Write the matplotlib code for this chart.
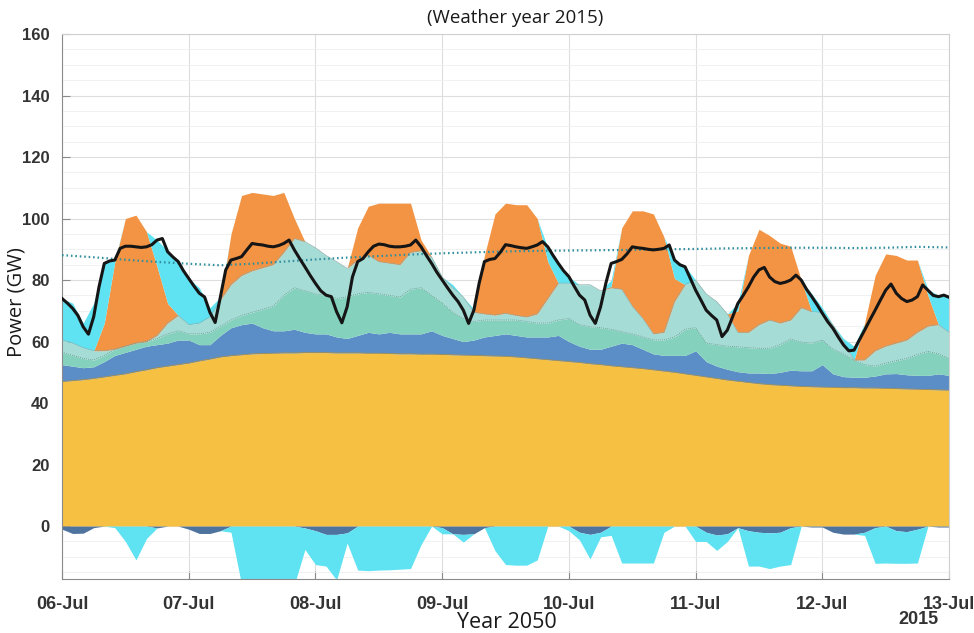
import numpy as np
import matplotlib.pyplot as plt
from matplotlib.ticker import MultipleLocator

# time axis (hours from 06-Jul 00:00)
hours_2h = np.arange(0, 169, 2)
hours_1h = np.arange(0, 169)
hours_6h = np.arange(0, 169, 6)

day_labels = ["06-Jul", "07-Jul", "08-Jul", "09-Jul", "10-Jul", "11-Jul", "12-Jul", "13-Jul"]

# stacked levels (GW), every 2 h
base_top = [47.0, 47.3, 47.6, 48.0, 48.5, 49.0, 49.5, 50.2, 50.8, 51.5,
            52.0, 52.5, 53.0, 53.7, 54.3, 55.0, 55.4, 55.7, 56.0, 56.1,
            56.2, 56.3, 56.3, 56.4, 56.4, 56.4, 56.3, 56.3, 56.3, 56.2,
            56.2, 56.1, 56.0, 56.0, 55.9, 55.9, 55.8, 55.7, 55.6, 55.5,
            55.4, 55.3, 55.2, 55.0, 54.7, 54.4, 54.1, 53.8, 53.5, 53.2,
            52.8, 52.5, 52.1, 51.8, 51.5, 51.2, 50.8, 50.4, 50.0, 49.5,
            49.0, 48.5, 48.0, 47.5, 47.1, 46.7, 46.3, 46.0, 45.8, 45.6,
            45.4, 45.3, 45.2, 45.1, 45.0, 45.0, 44.9, 44.9, 44.8, 44.7,
            44.6, 44.5, 44.4, 44.3, 44.2]

hydro_top = [52.5, 52.0, 51.5, 51.8, 53.5, 55.5, 56.5, 57.5, 58.5, 59.0,
             59.5, 60.5, 60.5, 59.0, 59.0, 62.0, 64.5, 65.5, 66.0, 64.5,
             63.5, 63.5, 64.0, 63.0, 62.5, 62.5, 61.5, 61.0, 62.0, 63.0,
             62.5, 63.0, 62.5, 62.5, 62.5, 63.5, 62.0, 61.0, 60.0, 60.5,
             61.5, 62.0, 62.5, 62.0, 61.5, 61.5, 61.5, 62.0, 60.0, 58.5,
             57.5, 57.5, 58.5, 59.5, 59.0, 57.5, 56.0, 55.5, 55.5, 55.5,
             57.0, 53.5, 52.0, 51.0, 50.2, 49.8, 49.8, 49.6, 50.0, 50.7,
             50.5, 50.5, 52.5, 49.5, 48.6, 48.4, 48.4, 48.8, 49.5, 49.6,
             49.2, 49.0, 49.0, 49.5, 49.0]

green_top = [56.5, 55.5, 54.5, 54.0, 55.5, 57.5, 58.5, 59.5, 60.0, 61.0,
             62.5, 63.5, 62.5, 62.5, 63.0, 65.0, 67.0, 68.5, 69.5, 70.5,
             71.5, 75.0, 77.5, 76.5, 75.5, 75.0, 74.0, 74.5, 75.5, 76.0,
             75.5, 75.0, 74.5, 77.0, 77.5, 75.0, 72.5, 69.5, 67.5, 66.5,
             67.0, 67.0, 67.0, 67.0, 66.5, 66.0, 66.0, 67.0, 67.5, 65.5,
             64.8, 64.5, 64.0, 63.2, 62.5, 61.5, 60.5, 60.5, 61.5, 64.0,
             64.5, 59.5, 59.0, 58.5, 58.3, 58.0, 57.8, 57.8, 59.0, 60.8,
             59.8, 59.5, 60.5, 57.5, 56.0, 54.0, 52.5, 52.0, 53.0, 53.8,
             54.5, 55.8, 56.8, 56.0, 54.5]

wind_top = [60.5, 59.5, 58.0, 57.0, 57.0, 57.5, 58.5, 59.5, 60.0, 62.0,
            66.0, 68.5, 65.5, 66.0, 68.0, 73.5, 78.5, 81.5, 83.0, 84.0,
            85.0, 89.0, 93.5, 92.5, 90.5, 88.0, 86.0, 83.8, 86.5, 88.0,
            86.0, 85.5, 85.0, 89.0, 89.5, 87.5, 81.0, 77.5, 74.5, 69.5,
            69.0, 68.6, 69.2, 68.5, 68.0, 69.0, 74.0, 79.0, 79.0, 78.5,
            78.5, 76.5, 77.5, 77.0, 71.5, 67.5, 62.5, 63.0, 73.0, 78.5,
            80.0, 75.5, 73.0, 69.0, 63.0, 63.0, 65.5, 67.0, 66.0, 67.0,
            71.0, 69.7, 69.5, 65.5, 60.0, 54.0, 54.0, 57.0, 58.5, 59.5,
            60.5, 63.0, 65.0, 65.5, 63.0]

solar_top = [60.5, 59.5, 58.0, 57.0, 66.0, 86.0, 100.0, 101.1, 95.7, 84.3,
             72.4, 68.5, 65.5, 66.0, 68.0, 73.5, 95.0, 107.5, 108.5, 108.0,
             107.5, 108.5, 100.0, 92.5, 90.5, 88.0, 86.0, 83.8, 97.0, 104.0,
             105.0, 105.0, 105.0, 105.0, 93.0, 87.5, 81.0, 77.5, 74.5, 69.5,
             88.0, 101.5, 105.0, 104.5, 104.5, 100.0, 86.0, 79.0, 79.0, 78.5,
             78.5, 76.5, 78.0, 97.0, 102.5, 102.5, 101.5, 94.0, 80.5, 78.5,
             80.0, 75.5, 73.0, 69.0, 70.0, 88.0, 96.5, 94.5, 92.0, 91.0,
             80.0, 69.7, 69.5, 65.5, 60.0, 54.0, 66.0, 81.5, 88.5, 88.0,
             86.5, 86.5, 75.0, 65.5, 63.0]

storage_top = [74.0, 72.5, 66.0, 72.5, 85.5, 86.5, 100.0, 101.1, 95.7, 93.0,
               89.5, 86.0, 80.5, 77.5, 71.0, 74.5, 95.0, 107.5, 108.5, 108.0,
               107.5, 108.5, 100.0, 92.5, 90.5, 88.0, 86.0, 83.8, 97.0, 104.0,
               105.0, 105.0, 105.0, 105.0, 93.0, 87.5, 81.0, 78.5, 74.5, 70.5,
               88.0, 101.5, 105.0, 104.5, 104.5, 100.0, 90.5, 85.0, 81.0, 78.5,
               78.5, 76.5, 80.0, 97.0, 102.5, 102.5, 101.5, 94.0, 86.5, 84.5,
               80.0, 75.5, 73.0, 69.0, 72.5, 88.0, 96.5, 94.5, 92.0, 91.0,
               80.0, 75.5, 71.0, 65.5, 61.0, 58.5, 66.0, 81.5, 88.5, 88.0,
               86.5, 86.5, 77.0, 75.0, 74.4]

# negative side (GW), every 2 h
neg_blue = [-1.0, -2.4, -2.3, -0.5, 0, 0, 0, 0, 0, -0.6,
            0, 0, -1.0, -2.4, -2.4, -1.5, 0, 0, 0, 0,
            0, 0, 0, -0.6, -1.5, -2.7, -2.7, -2.2, 0, 0,
            0, 0, 0, 0, 0, 0, -0.5, -2.5, -2.7, -2.5,
            -0.5, 0, 0, 0, 0, 0, 0, 0, 0, -2.0,
            -2.7, -2.0, 0, 0, 0, 0, 0, 0, 0, 0,
            0, -2.0, -2.9, -2.5, -0.5, -1.5, -2.0, -2.2, -2.0, -0.5,
            0, -0.3, -0.3, -2.0, -2.6, -2.6, -2.0, -0.5, 0, -1.5,
            -1.8, -1.0, 0, -0.3, -0.3]

neg_storage = [0, 0, 0, 0, 0, -0.5, -5.0, -11.0, -4.0, 0,
               0, 0, 0, 0, 0, 0, -2.0, -19.0, -19.0, -19.0,
               -19.0, -19.0, -19.0, -7.0, -11.0, -10.3, -14.8, -3.3, -14.3, -14.5,
               -14.3, -14.2, -14.0, -13.8, -6.0, 0, -2.0, 0, -2.5, 0,
               0, -8.0, -12.5, -12.7, -12.7, -11.0, 0, 0, -1.5, -2.5,
               -8.0, -1.5, -3.0, -12.0, -12.0, -12.0, -12.0, -2.0, 0, 0,
               -5.0, -3.0, -5.0, -2.5, 0, -11.5, -11.0, -11.6, -11.0, -12.0,
               0, 0, 0, 0, 0, 0, -1.0, -11.6, -12.0, -10.6,
               -10.3, -11.0, 0, 0, 0]

# demand (black line), hourly
demand = [74.0, 72.5, 70.8, 68.5, 64.8, 62.4, 68.1, 77.8, 85.4, 86.2, 86.5, 90.3,
          91.0, 91.0, 90.8, 90.6, 90.8, 91.5, 93.0, 93.5, 89.2, 87.5, 86.0, 83.0,
          80.5, 78.0, 75.7, 74.5, 69.5, 66.2, 74.6, 83.3, 86.5, 87.0, 87.6, 89.8,
          91.9, 91.6, 91.4, 91.0, 90.8, 91.2, 91.9, 93.0, 89.8, 87.0, 84.3, 81.5,
          78.9, 76.5, 75.1, 74.6, 69.7, 66.1, 71.3, 81.0, 86.0, 87.0, 89.2, 91.0,
          91.7, 91.5, 91.0, 90.8, 90.8, 91.0, 91.4, 93.0, 90.8, 88.0, 85.4, 82.5,
          80.0, 77.5, 75.1, 73.0, 70.2, 65.9, 70.2, 79.0, 86.0, 86.7, 87.0, 89.0,
          91.5, 91.2, 90.8, 90.5, 90.3, 90.8, 91.4, 92.5, 90.8, 88.0, 85.4, 83.0,
          81.1, 78.0, 75.1, 73.5, 68.6, 65.9, 71.3, 79.0, 85.4, 86.0, 86.7, 88.5,
          90.8, 90.5, 90.3, 90.0, 89.8, 90.0, 90.3, 91.4, 86.5, 85.0, 84.3, 80.5,
          76.7, 73.5, 70.2, 68.5, 67.0, 61.6, 63.7, 68.0, 72.4, 75.0, 77.8, 81.0,
          83.3, 84.1, 81.0, 79.5, 78.9, 79.3, 80.0, 81.6, 80.0, 77.0, 74.6, 72.0,
          69.2, 66.5, 64.3, 61.5, 58.9, 57.0, 57.2, 60.5, 63.7, 67.0, 70.2, 73.5,
          76.7, 78.7, 75.7, 74.0, 73.0, 73.5, 74.6, 78.4, 76.7, 75.0, 74.6, 75.1, 74.4]

# dotted capacity line, every 6 h
capacity = [88.1, 87.4, 86.6, 85.9, 85.3, 84.8, 85.3, 86.0, 86.7, 87.3,
            87.8, 88.3, 88.7, 89.0, 89.3, 89.5, 89.6, 89.7, 89.8, 90.0,
            90.1, 90.3, 90.4, 90.5, 90.5, 90.4, 90.5, 90.8, 90.6]

base_top = np.array(base_top)
hydro_top = np.array(hydro_top)
green_top = np.array(green_top)
wind_top = np.array(wind_top)
solar_top = np.array(solar_top)
storage_top = np.array(storage_top)
neg_blue = np.array(neg_blue)
neg_storage = np.array(neg_storage)

fig = plt.figure(figsize=(9.74, 6.33), dpi=100)
ax = fig.add_axes([0.0637, 0.0853, 0.9107, 0.861])

ax.fill_between(hours_2h, 0, base_top, color="#f6c143", lw=0, zorder=2)
ax.fill_between(hours_2h, base_top, hydro_top, color="#5b8ec6", lw=0, zorder=2)
ax.fill_between(hours_2h, hydro_top, green_top, color="#84d2bd", lw=0, zorder=2)
ax.fill_between(hours_2h, green_top, wind_top, color="#a6dcd6", lw=0, zorder=2)
ax.fill_between(hours_2h, wind_top, solar_top, color="#f39445", lw=0, zorder=2)
ax.fill_between(hours_2h, solar_top, storage_top, color="#5fe2f1", lw=0, zorder=2)
ax.fill_between(hours_2h, 0, neg_blue, color="#4e739e", lw=0, zorder=2)
ax.fill_between(hours_2h, neg_blue, neg_blue + neg_storage, color="#5fe2f1", lw=0, zorder=2)

ax.plot(hours_2h, base_top, color="#b38f3a", lw=0.5, zorder=3)
ax.plot(hours_2h, green_top, color="#5e8f86", lw=0.6, ls=(0, (1, 1.5)), zorder=3)
ax.plot(hours_2h, wind_top, color="#8aa8a4", lw=0.4, zorder=3)
ax.plot(hours_6h, capacity, color="#2f8e9e", lw=1.6, ls=(0, (0.7, 1.3)), zorder=4)
ax.plot(hours_1h, demand, color="#151515", lw=2.2, zorder=5)

ax.set_xlim(0, 168)
ax.set_ylim(-17.2, 160)
ax.set_xticks(np.arange(0, 169, 24))
ax.set_xticklabels(day_labels)
ax.set_yticks(np.arange(0, 161, 20))
ax.yaxis.set_minor_locator(MultipleLocator(5))

ax.grid(True, which="major", color="#dedede", lw=0.8, zorder=0)
ax.grid(True, which="minor", axis="y", color="#efefef", lw=0.6, zorder=0)
ax.set_axisbelow(True)

for side in ["top", "right"]:
    ax.spines[side].set_color("#d0d0d0")
for side in ["left", "bottom"]:
    ax.spines[side].set_color("#8a8a8a")

ax.tick_params(which="major", direction="in", length=6, color="#8a8a8a",
               labelsize=12, labelcolor="#333333", pad=9)
ax.tick_params(axis="x", which="major", labelsize=13, pad=12)
ax.tick_params(which="minor", length=0)
for lab in ax.get_xticklabels() + ax.get_yticklabels():
    lab.set_fontweight("bold")
    lab.set_family("Liberation Sans")

fig.text(507 / 974, 1 - 622 / 633, "Year 2050", family="Open Sans", fontsize=15.5,
         color="#1a1a1a", ha="center", va="center")
fig.text(17 / 974, 1 - 302 / 633, "Power (GW)", family="Open Sans", fontsize=14.5,
         color="#1a1a1a", ha="center", va="center", rotation=90)
fig.text(515 / 974, 1 - 18 / 633, "(Weather year 2015)", family="Open Sans", fontsize=13.5,
         color="#1a1a1a", ha="center", va="center")
fig.text(918 / 974, 1 - 620 / 633, "2015", family="Liberation Sans", fontweight="bold",
         fontsize=13, color="#333333", ha="center", va="center")

fig.savefig("out.png", dpi=100)
